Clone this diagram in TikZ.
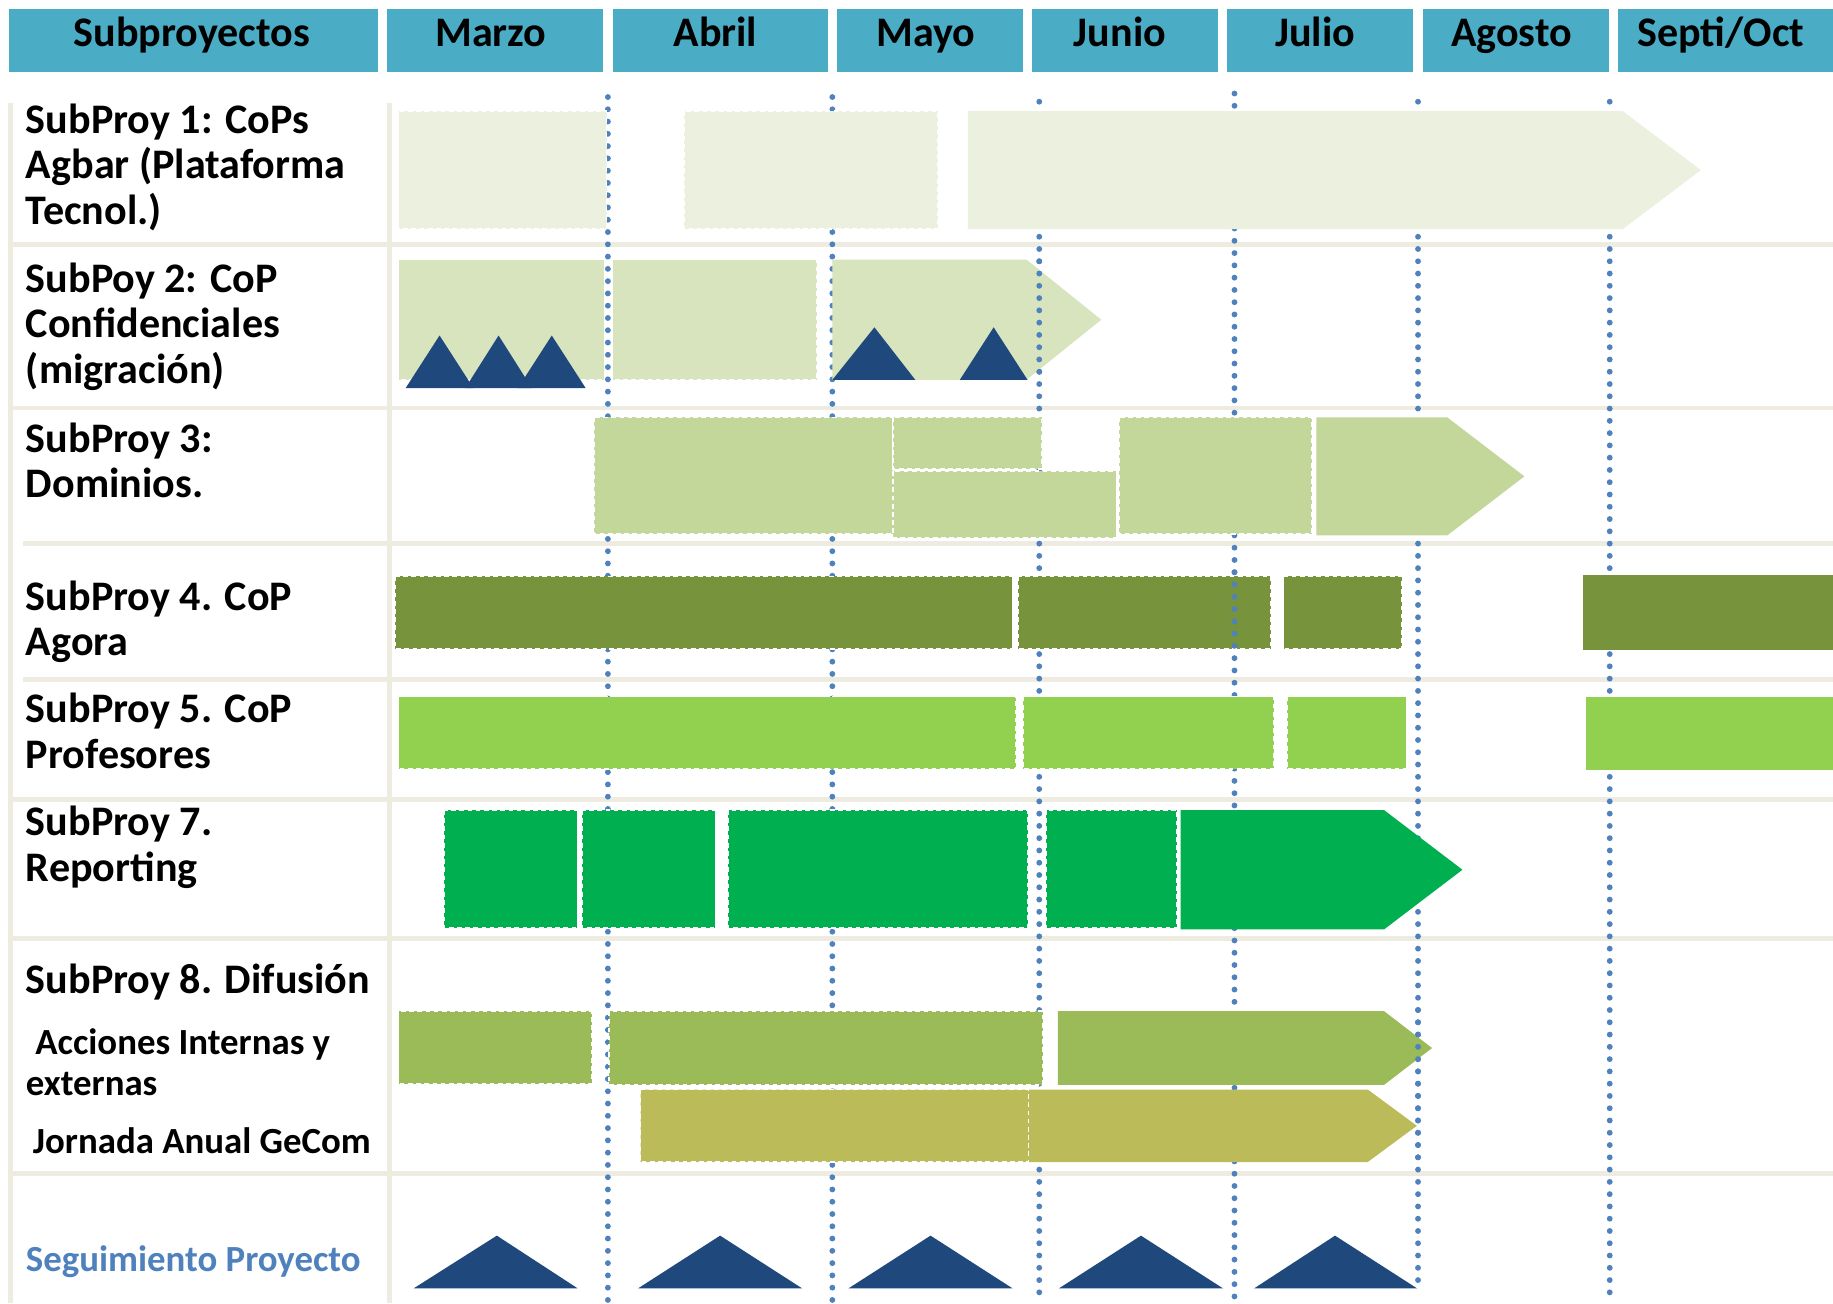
\documentclass[tikz,border=0pt]{standalone}
\usepackage{fontspec}
\setmainfont{Carlito}
\definecolor{hdr}{HTML}{4BACC6}
\definecolor{gridc}{HTML}{EEECE1}
\definecolor{dotc}{HTML}{4F81BD}
\definecolor{cA}{HTML}{EBF1DE}
\definecolor{cB}{HTML}{D7E4BD}
\definecolor{cC}{HTML}{C4D79B}
\definecolor{cD}{HTML}{77933C}
\definecolor{cE}{HTML}{92D050}
\definecolor{cF}{HTML}{00B050}
\definecolor{cG}{HTML}{9BBB59}
\definecolor{cH}{HTML}{BBBB5A}
\definecolor{tric}{HTML}{1F497D}
\definecolor{segc}{HTML}{4F81BD}
\tikzset{
  hdrbox/.style={fill=hdr},
  gridline/.style={draw=gridc, line width=4pt},
  dotline/.style={draw=dotc, line width=5pt, line cap=round, dash pattern=on 0pt off 10.5pt},
  bar/.style={draw=white, line width=1.3pt, dash pattern=on 4pt off 3pt},
  hdrtext/.style={font=\fontsize{36}{40}\selectfont\bfseries, anchor=base, inner sep=0pt},
  lbl/.style={font=\fontsize{36}{39}\selectfont\bfseries, anchor=base west, inner sep=0pt},
  sublbl/.style={font=\fontsize{31.5}{36}\selectfont\bfseries, anchor=base west, inner sep=0pt},
}
\begin{document}
\begin{tikzpicture}[x=1pt,y=-1pt]
\useasboundingbox (0,0) rectangle (1568,1115);
\fill[white] (0,0) rectangle (1568,1115);
% header
\path[hdrbox] (8,8) rectangle (323,62);
\path[hdrbox] (331,8) rectangle (516,62);
\path[hdrbox] (524,8) rectangle (708,62);
\path[hdrbox] (716,8) rectangle (875,62);
\path[hdrbox] (883,8) rectangle (1042,62);
\path[hdrbox] (1050,8) rectangle (1209,62);
\path[hdrbox] (1217,8) rectangle (1376,62);
\path[hdrbox] (1384,8) rectangle (1568,62);
\node[hdrtext] (hsub) at (164,40) {Subproyectos};
\node[hdrtext] (hmar) at (420,40) {Marzo};
\node[hdrtext] (habr) at (612,40) {Abril};
\node[hdrtext] (hmay) at (792,40) {Mayo};
\node[hdrtext] (hjun) at (958,40) {Junio};
\node[hdrtext] (hjul) at (1125,40) {Julio};
\node[hdrtext] (hago) at (1293,40) {Agosto};
\node[hdrtext] (hsep) at (1472,40) {Septi/Oct};
% grid
\foreach \yy in {209,349,684,803,1004}
  \draw[gridline] (10,\yy) -- (1568,\yy);
\foreach \yy in {465,581}
  \draw[gridline] (20,\yy) -- (1568,\yy);
\draw[gridline] (9,88) -- (9,1115);
\draw[gridline] (333,88) -- (333,1115);
% dotted month lines
\draw[dotline] (520,83) -- (520,1113);
\draw[dotline] (712,83) -- (712,1113);
\draw[dotline] (889,87) -- (889,1113);
\draw[dotline] (1056,80) -- (1056,1113);
\draw[dotline] (1213,87) -- (1213,1105);
\draw[dotline] (1377,87) -- (1377,1110);
% row 1
\path[bar,fill=cA] (341,95) rectangle (519,196);
\path[bar,fill=cA] (585,95) rectangle (802,196);
\fill[cA] (828,95) -- (1388,95) -- (1455,145.5) -- (1388,196) -- (828,196) -- cycle;
% row 2
\path[bar,fill=cB] (341,222) rectangle (517,325);
\path[bar,fill=cB] (524,222) rectangle (699,325);
\fill[cB] (712,222) -- (878,222) -- (942,273.5) -- (878,325) -- (712,325) -- cycle;
\draw[dotline] (889,223.5) -- (889,325);
\fill[tric] (347,332) -- (376,287) -- (405,332) -- cycle;
\fill[tric] (398,332) -- (426.5,287) -- (455,332) -- cycle;
\fill[tric] (443,332) -- (472,287) -- (501,332) -- cycle;
\fill[tric] (712,325) -- (748,280) -- (783,325) -- cycle;
\fill[tric] (821,325) -- (850,280) -- (879,325) -- cycle;
% row 3
\path[bar,fill=cC] (508,357) rectangle (764,457);
\path[bar,fill=cC] (764,357) rectangle (891,401);
\path[bar,fill=cC] (764,403) rectangle (955,460);
\path[bar,fill=cC] (957,357) rectangle (1122,457);
\fill[cC] (1126,357) -- (1238,357) -- (1304,407.5) -- (1238,458) -- (1126,458) -- cycle;
% row 4
\path[bar,fill=cD] (338,493) rectangle (866,555);
\path[bar,fill=cD] (871,493) rectangle (1087,555);
\path[bar,fill=cD] (1098,493) rectangle (1199,555);
\fill[cD] (1354,492) rectangle (1568,556);
\draw[dotline] (1056,489.5) -- (1056,556);
% row 5
\path[bar,fill=cE] (341,596) rectangle (869,658);
\path[bar,fill=cE] (875,596) rectangle (1090,658);
\path[bar,fill=cE] (1101,596) rectangle (1203,658);
\fill[cE] (1357,596) rectangle (1568,659);
% row 7
\path[bar,fill=cF] (380,693) rectangle (494,794);
\path[bar,fill=cF] (498,693) rectangle (612,794);
\path[bar,fill=cF] (623,693) rectangle (879,794);
\path[bar,fill=cF] (895,693) rectangle (1007,794);
\fill[cF] (1010,693) -- (1184,693) -- (1251,744) -- (1184,795) -- (1010,795) -- cycle;
% row 8
\path[bar,fill=cG] (341,865) rectangle (506,927);
\path[bar,fill=cG] (521,865) rectangle (892,928);
\fill[cG] (905,865) -- (1184,865) -- (1225,896.5) -- (1184,928) -- (905,928) -- cycle;
\fill[cH] (548,932) -- (1170,932) -- (1212,963) -- (1170,994) -- (548,994) -- cycle;
\path[bar] (548,932) rectangle (880,994);
\draw[dotline] (1213,864) -- (1213,1000);
% seguimiento
\foreach \a/\b/\c in {354/425/494,546/616/686,726/796/866,906/976/1046,1073/1142/1212}
  \fill[tric] (\a,1102) -- (\b,1057) -- (\c,1102) -- cycle;
% labels
\node[lbl] (l1a) at (22,114) {SubProy 1: CoPs};
\node[lbl] (l1b) at (22,153) {Agbar (Plataforma};
\node[lbl] (l1c) at (22,192) {Tecnol.)};
\node[lbl] (l2a) at (22,250) {SubPoy 2: CoP};
\node[lbl] (l2b) at (22,289) {Confidenciales};
\node[lbl] (l2c) at (22,328) {(migración)};
\node[lbl] (l3a) at (22,387) {SubProy 3:};
\node[lbl] (l3b) at (22,426) {Dominios.};
\node[lbl] (l4a) at (22,522) {SubProy 4. CoP};
\node[lbl] (l4b) at (22,561) {Agora};
\node[lbl] (l5a) at (22,618) {SubProy 5. CoP};
\node[lbl] (l5b) at (22,657) {Profesores};
\node[lbl] (l7a) at (22,715) {SubProy 7.};
\node[lbl] (l7b) at (22,754) {Reporting};
\node[lbl] (l8a) at (22,850) {SubProy 8. Difusión};
\node[sublbl] (l8b) at (30,902) {Acciones Internas y};
\node[sublbl] (l8c) at (22,937) {externas};
\node[sublbl] (l8d) at (28,987) {Jornada Anual GeCom};
\node[sublbl, text=segc] (lseg) at (22,1088) {Seguimiento Proyecto};
\end{tikzpicture}
\end{document}
